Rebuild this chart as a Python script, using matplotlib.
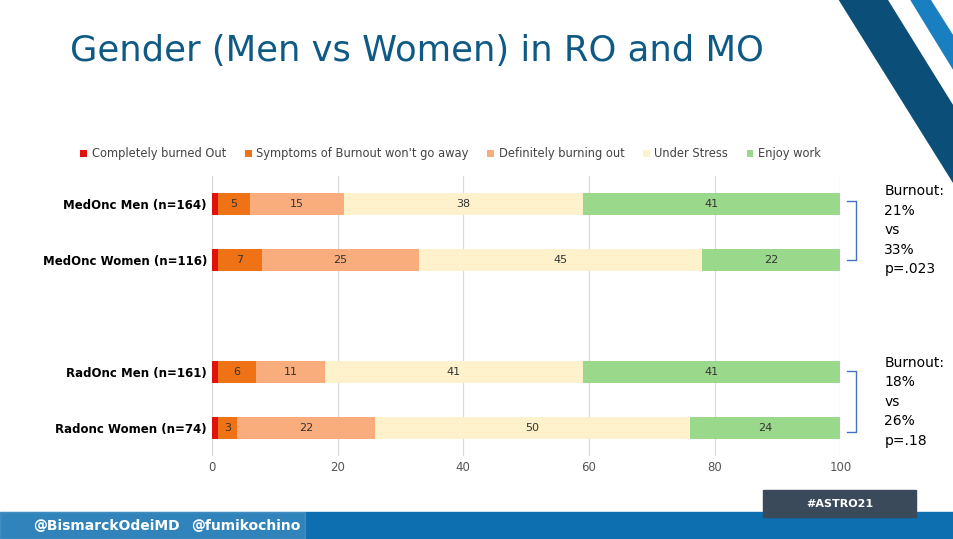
import matplotlib
matplotlib.use("Agg")
import matplotlib.pyplot as plt
from matplotlib.patches import Rectangle, Polygon

categories = ["MedOnc Men (n=164)", "MedOnc Women (n=116)", "RadOnc Men (n=161)", "Radonc Women (n=74)"]
series = ["Completely burned Out", "Symptoms of Burnout won't go away", "Definitely burning out", "Under Stress", "Enjoy work"]
completely = [1, 1, 1, 1]
symptoms = [5, 7, 6, 3]
definitely = [15, 25, 11, 22]
stress = [38, 45, 41, 50]
enjoy = [41, 22, 41, 24]
values = [completely, symptoms, definitely, stress, enjoy]
colors = ["#e0120e", "#f07217", "#f9ad7c", "#fdf2cc", "#9ad98c"]
ypos = [0, 1, 3, 4]

fig = plt.figure(figsize=(9.54, 5.39), dpi=100)
fig.patch.set_facecolor("white")
ax = fig.add_axes([0.222, 0.154, 0.659, 0.519])
left = [0]*4
for name, vals, c in zip(series, values, colors):
    ax.barh(ypos, vals, left=left, height=0.4, color=c, label=name, zorder=3)
    for y, l, v in zip(ypos, left, vals):
        if v >= 3:
            ax.text(l + v/2, y, str(v), ha="center", va="center", fontsize=8, color="#333333", zorder=4)
    left = [a+b for a, b in zip(left, vals)]
ax.set_xlim(0, 100)
ax.set_ylim(4.5, -0.5)
ax.set_xticks([0, 20, 40, 60, 80, 100])
ax.set_yticks(ypos)
ax.set_yticklabels(categories, fontweight="bold", fontsize=8.5)
ax.tick_params(length=0, labelsize=8.5, colors="#555555")
ax.tick_params(axis="y", colors="black")
ax.grid(axis="x", color="#d9d9d9", zorder=0)
for s in ax.spines.values():
    s.set_visible(False)
leg = ax.legend(loc="lower center", bbox_to_anchor=(0.38, 1.02), ncol=5, frameon=False, fontsize=8.3,
          handlelength=0.6, handleheight=0.6, columnspacing=1.6, handletextpad=0.4)
for t in leg.get_texts():
    t.set_color("#444444")

fig.text(0.073, 0.905, "Gender (Men vs Women) in RO and MO", fontsize=25.5, color="#0f5a85", va="center")

# brackets
for (y0, y1), txt in [((0.628, 0.518), "Burnout:\n21%\nvs\n33%\np=.023"), ((0.312, 0.198), "Burnout:\n18%\nvs\n26%\np=.18")]:
    fig.add_artist(plt.Line2D([0.888, 0.897, 0.897, 0.888], [y0, y0, y1, y1], color="#4472c4", lw=1))
    fig.text(0.927, (y0+y1)/2, txt, fontsize=10, va="center", ha="left", linespacing=1.5)

# decorative right stripes
fig.add_artist(Polygon([[0.88, 1.0], [0.93, 1.0], [1.0, 0.80], [1.0, 0.66]], closed=True, color="#0b4f79", transform=fig.transFigure))
fig.add_artist(Polygon([[0.955, 1.0], [0.975, 1.0], [1.0, 0.93], [1.0, 0.87]], closed=True, color="#1a7fc0", transform=fig.transFigure))

# bottom band
fig.add_artist(Rectangle((0, 0), 1, 0.05, color="#0d6fb0", transform=fig.transFigure))
fig.add_artist(Rectangle((0, 0), 0.32, 0.05, color="#ffffff", alpha=0.15, transform=fig.transFigure))
fig.text(0.035, 0.025, "@BismarckOdeiMD", fontsize=10, color="white", fontweight="bold", va="center")
fig.text(0.2, 0.025, "@fumikochino", fontsize=10, color="white", fontweight="bold", va="center")
fig.add_artist(Rectangle((0.8, 0.04), 0.16, 0.05, color="#3a4a5a", transform=fig.transFigure))
fig.text(0.88, 0.065, "#ASTRO21", fontsize=8, color="white", fontweight="bold", va="center", ha="center")

fig.savefig("out.png", dpi=100)
